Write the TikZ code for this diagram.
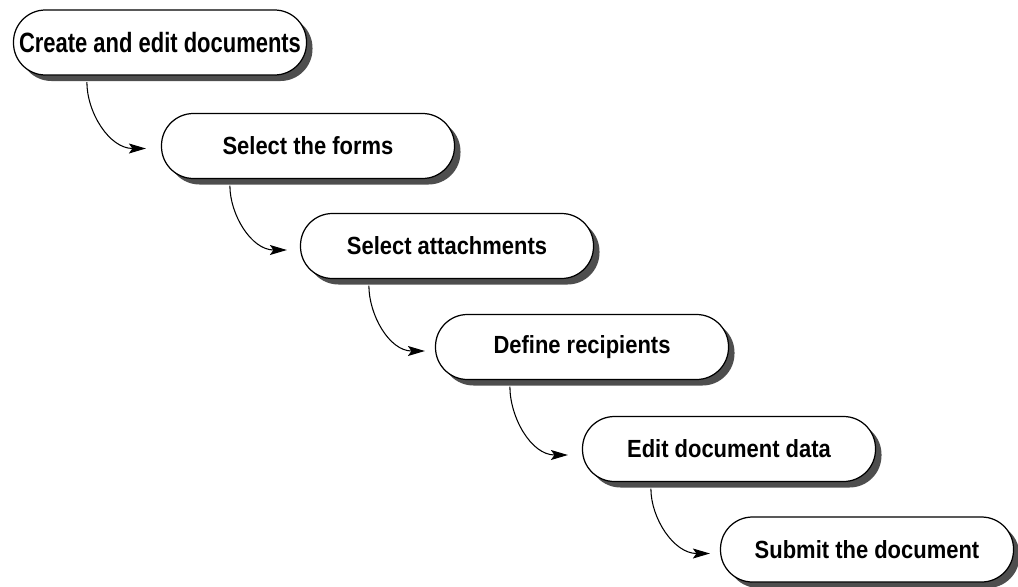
\documentclass[tikz,border=0pt]{standalone}
\usepackage{fontspec}
\setmainfont{Liberation Sans}
\usepackage{graphicx}
\usetikzlibrary{arrows.meta, shadows}
\definecolor{shadowgray}{RGB}{78,78,78}
\newcommand{\tallbox}[2][1.13]{\scalebox{1}[#1]{#2}}
\tikzset{
    stepbox/.style = {draw, line width = 0.7pt, fill = white, rounded corners = 0.64cm,
        minimum width = 5.86cm, minimum height = 1.3cm, inner sep = 0pt,
        font = \fontsize{12.5}{15}\selectfont\bfseries,
        drop shadow = {shadow xshift = 0.12cm, shadow yshift = -0.12cm,
            fill = shadowgray, opacity = 1}},
    flow/.style = {line width = 0.6pt, shorten <= 0.13cm,
        -{Stealth[length = 3.4mm, width = 2mm, inset = 0.7mm]}}
}
\begin{document}
\begin{tikzpicture}
                    \useasboundingbox (0, 0) rectangle (20.36, -11.72);
                    \path
                        (3.2, -0.85) node [stepbox] (create) {\tallbox[1.27]{Create and edit documents}}
                        (6.16, -2.92) node [stepbox] (forms) {\tallbox{Select the forms}}
                        (8.94, -4.92) node [stepbox] (attach) {\tallbox{Select attachments}}
                        (11.64, -6.94) node [stepbox] (recip) {\tallbox{Define recipients}}
                        (14.58, -8.98) node [stepbox] (data) {\tallbox{Edit document data}}
                        (17.34, -10.99) node [stepbox] (submit) {\tallbox{Submit the document}}
                        ;
                    \draw [flow] ([xshift = 1.48cm]create.south west) to [out = -90, in = 180] ([xshift = -0.3cm, yshift = -0.05cm]forms.west);
                    \draw [flow] ([xshift = 1.38cm]forms.south west) to [out = -90, in = 180] ([xshift = -0.26cm, yshift = -0.08cm]attach.west);
                    \draw [flow] ([xshift = 1.38cm]attach.south west) to [out = -90, in = 180] ([xshift = -0.2cm, yshift = -0.08cm]recip.west);
                    \draw [flow] ([xshift = 1.5cm]recip.south west) to [out = -90, in = 180] ([xshift = -0.28cm, yshift = -0.12cm]data.west);
                    \draw [flow] ([xshift = 1.38cm]data.south west) to [out = -90, in = 180] ([xshift = -0.2cm, yshift = -0.08cm]submit.west);
\end{tikzpicture}
\end{document}
